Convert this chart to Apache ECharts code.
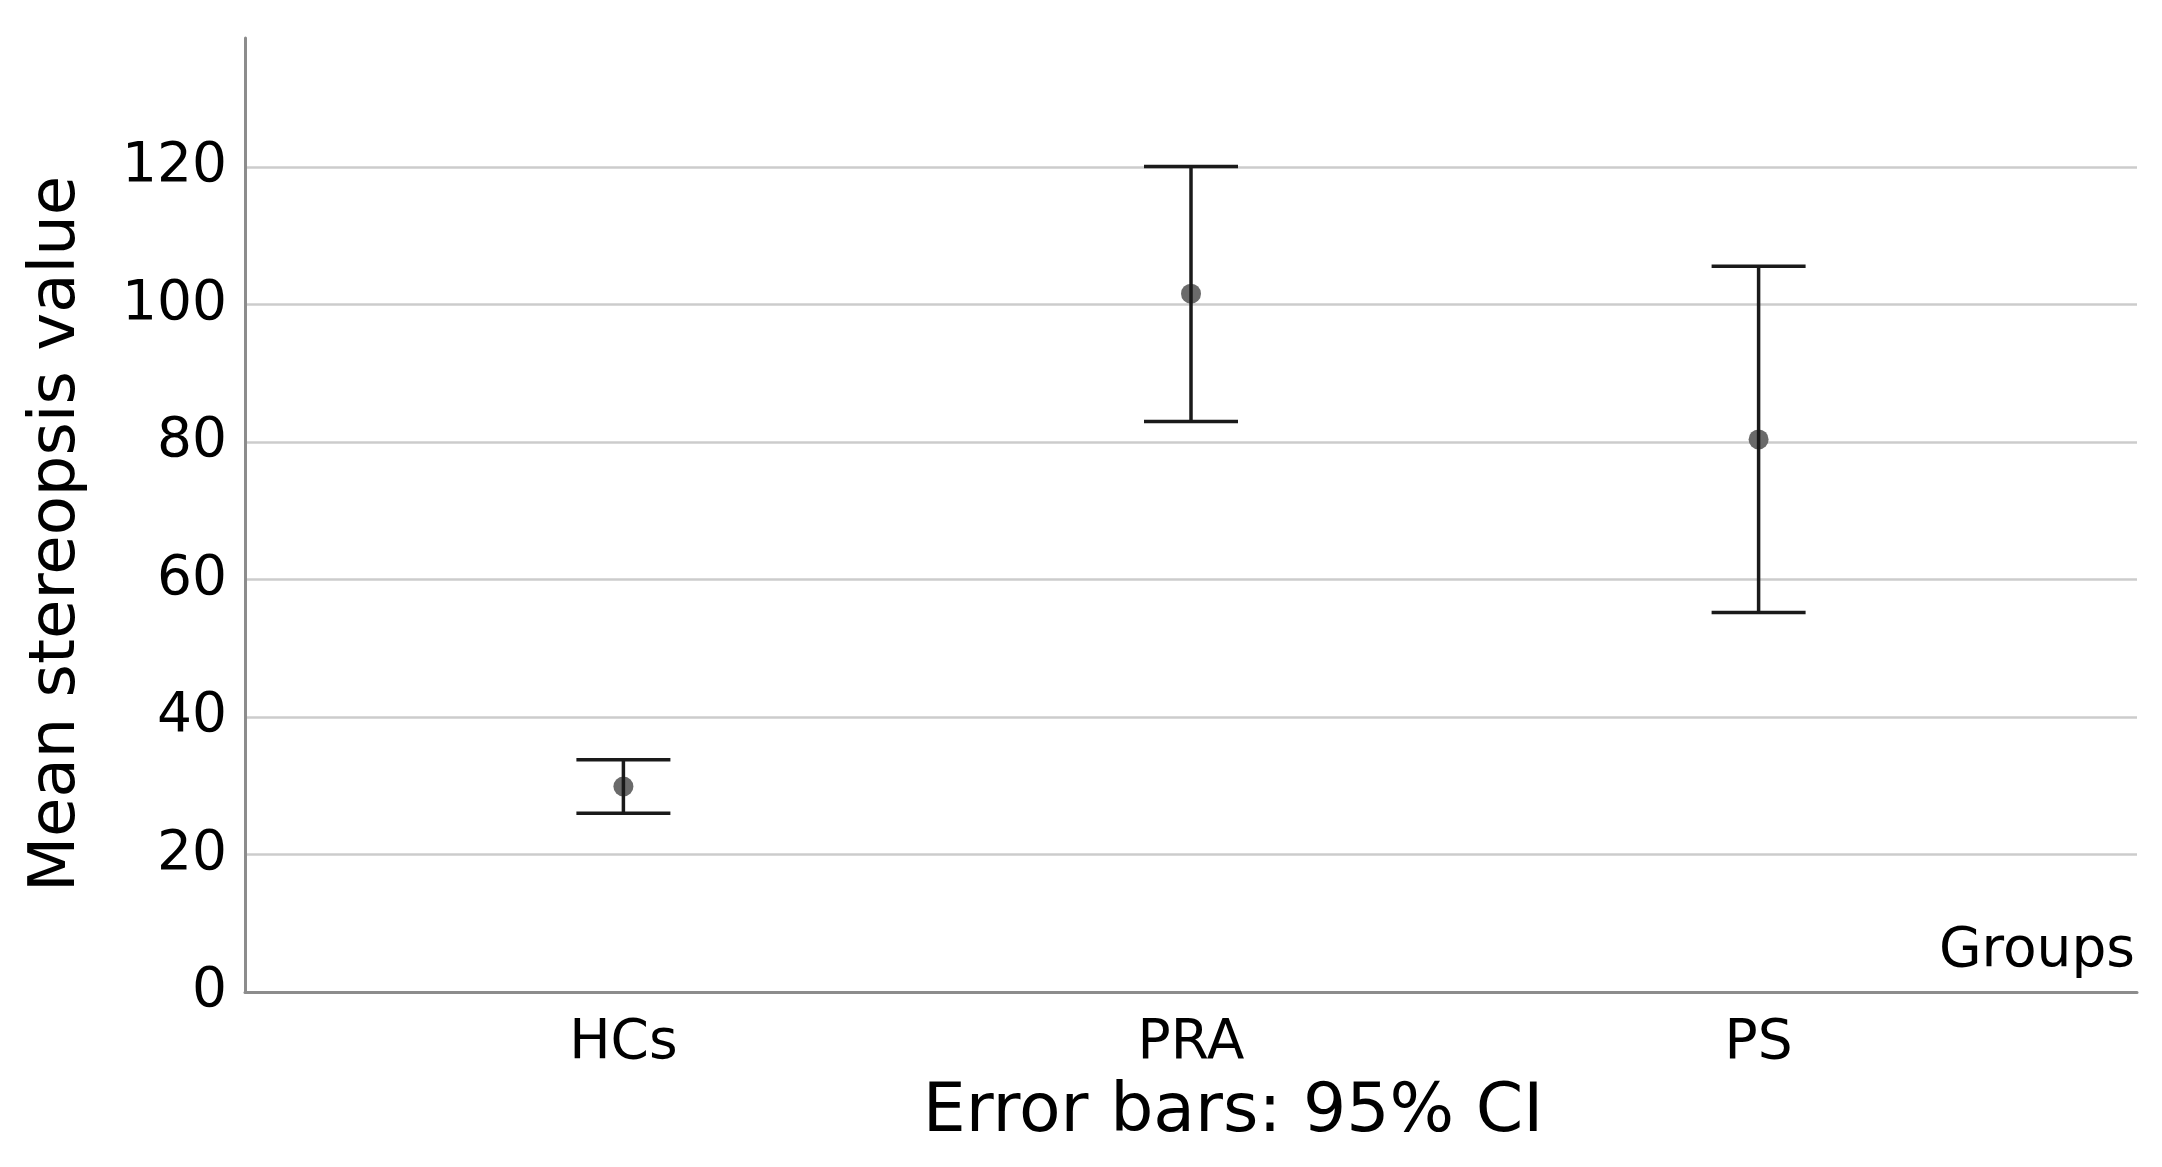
<!DOCTYPE html>
<html>
<head>
<meta charset="utf-8">
<script src="https://cdn.jsdelivr.net/npm/echarts@6/dist/echarts.min.js"></script>
<style>
html,body{margin:0;padding:0;background:#fff;}
#chart{width:2162px;height:1167px;}
</style>
</head>
<body>
<div id="chart"></div>
<script>
const categories = ['HCs', 'PRA', 'PS'];
const means = [29.9, 101.6, 80.4];
const lower = [26.0, 83.0, 55.2];
const upper = [33.8, 120.1, 105.6];
const yTicks = [0, 20, 40, 60, 80, 100, 120];
const yTitle = 'Mean stereopsis value';
const xTitle = 'Error bars: 95% CI';
const xAxisName = 'Groups';

const FONT = 'DejaVu Sans';
const chart = echarts.init(document.getElementById('chart'), null, {renderer: 'canvas'});

const pointData = categories.map((c, i) => [i + 1, means[i]]);
const errData = categories.map((c, i) => [i + 1, lower[i], upper[i]]);

const option = {
  backgroundColor: '#ffffff',
  animation: false,
  grid: {left: 245, right: 25, top: 38, bottom: 175, containLabel: false, outerBoundsMode: 'none'},
  xAxis: {
    type: 'value',
    min: 1 / 3,
    max: 11 / 3,
    axisLine: {show: true, lineStyle: {color: '#8c8c8c', width: 3}},
    axisTick: {show: false},
    splitLine: {show: false},
    axisLabel: {
      customValues: [1, 2, 3],
      formatter: v => categories[Math.round(v) - 1] || '',
      fontFamily: FONT, fontSize: 55, color: '#000', margin: 24
    }
  },
  yAxis: {
    type: 'value',
    min: 0,
    max: 138.8,
    interval: 20,
    axisLine: {show: true, lineStyle: {color: '#8c8c8c', width: 3}},
    axisTick: {show: false},
    splitLine: {show: true, showMaxLine: false, showMinLine: false, lineStyle: {color: '#cccccc', width: 2.5}},
    axisLabel: {
      showMaxLabel: false,
      formatter: v => yTicks.indexOf(Math.round(v)) >= 0 && Math.abs(v - Math.round(v)) < 1e-6 ? String(Math.round(v)) : '',
      fontFamily: FONT, fontSize: 55, color: '#000', margin: 18
    }
  },
  series: [
    {
      type: 'scatter',
      data: pointData,
      symbolSize: 20,
      itemStyle: {color: '#6a6a6a', opacity: 1},
      z: 2
    },
    {
      type: 'custom',
      data: errData,
      encode: {x: 0, y: [1, 2]},
      z: 3,
      renderItem: function (params, api) {
        const x = api.value(0);
        const lo = api.coord([x, api.value(1)]);
        const hi = api.coord([x, api.value(2)]);
        const hw = 47;
        const style = {stroke: '#1a1a1a', lineWidth: 3.5};
        return {
          type: 'group',
          children: [
            {type: 'line', shape: {x1: lo[0], y1: lo[1], x2: hi[0], y2: hi[1]}, style: style},
            {type: 'line', shape: {x1: hi[0] - hw, y1: hi[1], x2: hi[0] + hw, y2: hi[1]}, style: style},
            {type: 'line', shape: {x1: lo[0] - hw, y1: lo[1], x2: lo[0] + hw, y2: lo[1]}, style: style}
          ]
        };
      }
    }
  ],
  graphic: [
    {
      type: 'text', x: 57, y: 534, rotation: Math.PI / 2,
      style: {text: yTitle, fontFamily: FONT, fontSize: 64, fill: '#000', align: 'center', verticalAlign: 'middle'}
    },
    {
      type: 'text', x: 1233, y: 1113,
      style: {text: xTitle, fontFamily: FONT, fontSize: 68, fill: '#000', align: 'center', verticalAlign: 'middle'}
    },
    {
      type: 'text', x: 2135, y: 952,
      style: {text: xAxisName, fontFamily: FONT, fontSize: 55, fill: '#000', align: 'right', verticalAlign: 'middle'}
    }
  ]
};
chart.setOption(option);
</script>
</body>
</html>
